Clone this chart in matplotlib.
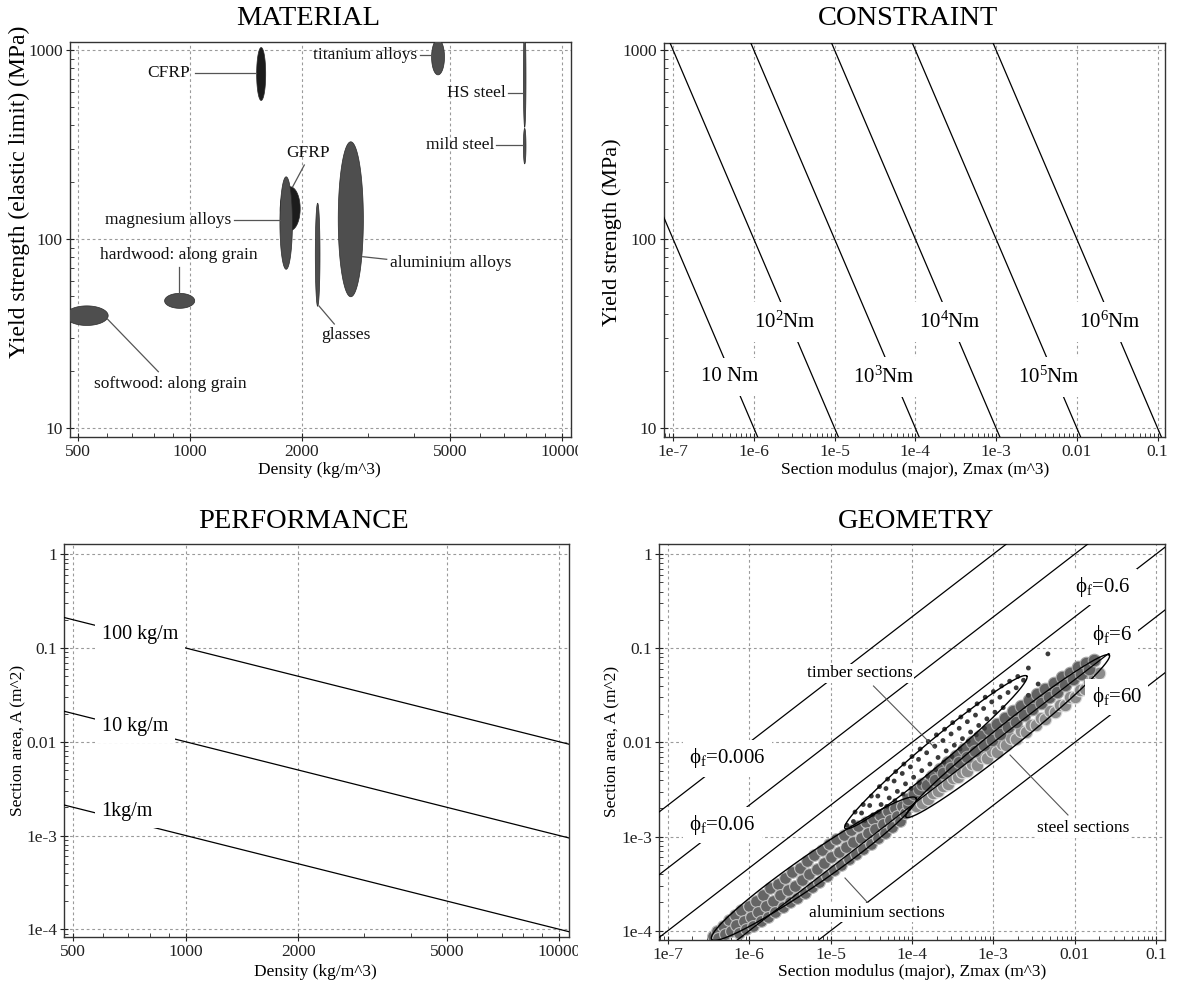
import numpy as np
import matplotlib
matplotlib.use('Agg')
import matplotlib.pyplot as plt
from matplotlib.patches import Rectangle
from matplotlib.ticker import FixedLocator, FixedFormatter, LogLocator, NullFormatter

plt.rcParams['font.family'] = ['Liberation Serif', 'DejaVu Serif']
plt.rcParams['mathtext.fontset'] = 'custom'
plt.rcParams['mathtext.rm'] = 'Liberation Serif'
plt.rcParams['mathtext.it'] = 'Liberation Serif:italic'
plt.rcParams['mathtext.bf'] = 'Liberation Serif:bold'

# ---------------- DATA ----------------
# MATERIAL panel: property ranges (density kg/m^3, yield strength MPa)
materials = ['softwood: along grain', 'hardwood: along grain', 'GFRP', 'CFRP',
             'magnesium alloys', 'glasses', 'aluminium alloys', 'titanium alloys',
             'HS steel', 'mild steel']
mat_rho_lo = [463, 855, 1748, 1511, 1745, 2172, 2503, 4460, 7870, 7870]
mat_rho_hi = [603, 1030, 1978, 1598, 1885, 2236, 2924, 4830, 7997, 7997]
mat_sy_lo = [34.9, 43.0, 111, 541, 69.2, 44.1, 49.5, 739, 390, 250]
mat_sy_hi = [44.3, 51.6, 189, 1031, 213.4, 154.7, 327, 1140, 1300, 385]
mat_dark = [False, False, True, True, False, False, False, False, False, False]

# CONSTRAINT panel: bending moment contours (Nm)
moments = [10, 100, 1e3, 1e4, 1e5, 1e6]
moment_labels = ['10 Nm', '10$^{2}$Nm', '10$^{3}$Nm', '10$^{4}$Nm', '10$^{5}$Nm', '10$^{6}$Nm']

# PERFORMANCE panel: mass per unit length contours (kg/m)
masses = [100, 10, 1]
mass_labels = ['100 kg/m', '10 kg/m', '1kg/m']

# GEOMETRY panel: shape factor contours
phis = [0.006, 0.06, 0.6, 6, 60]
phi_labels = ['ϕ$_{\\mathrm{f}}$=0.006', 'ϕ$_{\\mathrm{f}}$=0.06', 'ϕ$_{\\mathrm{f}}$=0.6',
              'ϕ$_{\\mathrm{f}}$=6', 'ϕ$_{\\mathrm{f}}$=60']

# section catalogues: log10(Zmax m^3), log10(A m^2)
alu_logZ = [-6.45, -6.40, -6.38, -6.32, -6.30, -6.25, -6.22, -6.18, -6.16, -6.13, -6.10, -6.07,
            -6.04, -6.00, -5.98, -5.95, -5.92, -5.89, -5.86, -5.83, -5.80, -5.77, -5.74, -5.71,
            -5.68, -5.65, -5.62, -5.59, -5.56, -5.53, -5.50, -5.47, -5.44, -5.41, -5.38, -5.35,
            -5.32, -5.29, -5.26, -5.23, -5.20, -5.17, -5.14, -5.11, -5.08, -5.05, -5.02, -4.99,
            -4.96, -4.93, -4.90, -4.87, -4.84, -4.81, -4.78, -4.75, -4.72, -4.69, -4.66, -4.63,
            -4.60, -4.57, -4.54, -4.51, -4.48, -4.45, -4.42, -4.39, -4.36, -4.33, -4.30, -4.27,
            -4.24, -4.21, -4.18, -4.15, -4.12, -4.09, -4.05]
alu_logA = [-4.06, -4.00, -4.08, -3.95, -4.04, -3.89, -4.00, -3.83, -3.94, -4.02, -3.78, -3.90,
            -3.98, -3.74, -3.85, -3.95, -3.68, -3.80, -3.90, -3.62, -3.74, -3.85, -3.55, -3.68,
            -3.80, -3.50, -3.62, -3.75, -3.44, -3.57, -3.70, -3.38, -3.52, -3.65, -3.33, -3.46,
            -3.60, -3.26, -3.40, -3.54, -3.20, -3.34, -3.48, -3.14, -3.28, -3.42, -3.08, -3.22,
            -3.36, -3.03, -3.16, -3.30, -2.98, -3.11, -3.24, -2.93, -3.06, -3.19, -2.89, -3.01,
            -3.13, -2.85, -2.96, -3.08, -2.81, -2.92, -3.02, -2.77, -2.87, -2.96, -2.73, -2.82,
            -2.90, -2.70, -2.78, -2.84, -2.68, -2.75, -2.66]

steel_dark_logZ = [-4.05, -3.98, -3.92, -3.88, -3.82, -3.76, -3.72, -3.66, -3.62, -3.56, -3.52,
                   -3.46, -3.42, -3.36, -3.32, -3.26, -3.22, -3.16, -3.12, -3.06, -3.02, -2.96,
                   -2.92, -2.86, -2.82, -2.76, -2.72, -2.66, -2.62, -2.56, -2.52, -2.46, -2.42,
                   -2.36, -2.32, -2.26, -2.22, -2.16, -2.12, -2.06, -2.02, -1.96, -1.92, -1.86,
                   -1.82, -1.76]
steel_dark_logA = [-2.60, -2.55, -2.50, -2.44, -2.45, -2.36, -2.40, -2.28, -2.33, -2.21, -2.27,
                   -2.14, -2.21, -2.07, -2.15, -2.00, -2.09, -1.93, -2.03, -1.86, -1.97, -1.80,
                   -1.91, -1.74, -1.84, -1.67, -1.78, -1.61, -1.71, -1.55, -1.65, -1.49, -1.58,
                   -1.43, -1.52, -1.37, -1.46, -1.31, -1.39, -1.26, -1.33, -1.20, -1.27, -1.16,
                   -1.22, -1.12]
steel_light_logZ = [-3.95, -3.88, -3.80, -3.74, -3.68, -3.62, -3.56, -3.50, -3.44, -3.38, -3.32,
                    -3.26, -3.20, -3.14, -3.08, -3.02, -2.96, -2.90, -2.84, -2.78, -2.72, -2.66,
                    -2.60, -2.54, -2.48, -2.42, -2.36, -2.30, -2.24, -2.18, -2.12, -2.06, -2.00,
                    -1.94, -1.88, -1.82, -1.76, -1.70]
steel_light_logA = [-2.68, -2.64, -2.60, -2.54, -2.52, -2.46, -2.44, -2.38, -2.37, -2.31, -2.30,
                    -2.23, -2.24, -2.16, -2.17, -2.09, -2.10, -2.02, -2.03, -1.95, -1.96, -1.88,
                    -1.89, -1.81, -1.82, -1.74, -1.75, -1.67, -1.68, -1.60, -1.60, -1.52, -1.52,
                    -1.44, -1.43, -1.36, -1.32, -1.26]

timber_logZ = [-4.80, -4.70, -4.72, -4.60, -4.62, -4.58, -4.50, -4.52, -4.48,
               -4.40, -4.42, -4.38, -4.41, -4.30, -4.32, -4.28, -4.31, -4.20, -4.22, -4.18, -4.21,
               -4.10, -4.12, -4.08, -4.11, -4.00, -4.02, -3.98, -4.01, -3.90, -3.92, -3.88, -3.91,
               -3.80, -3.82, -3.78, -3.81, -3.70, -3.72, -3.68, -3.71, -3.60, -3.62, -3.58, -3.61,
               -3.50, -3.52, -3.48, -3.51, -3.40, -3.42, -3.38, -3.41, -3.30, -3.32, -3.28, -3.31,
               -3.20, -3.22, -3.18, -3.21, -3.10, -3.12, -3.08, -3.11, -3.00, -3.02, -2.98,
               -2.90, -2.92, -2.88, -2.80, -2.82, -2.70, -2.72, -2.63, -2.57, -2.57, -2.45, -2.33]
timber_logA = [-2.88, -2.74, -2.84, -2.66, -2.75, -2.83, -2.57, -2.67, -2.77,
               -2.47, -2.57, -2.66, -2.74, -2.39, -2.49, -2.59, -2.68, -2.31, -2.41, -2.52, -2.62,
               -2.23, -2.33, -2.44, -2.55, -2.15, -2.26, -2.37, -2.49, -2.07, -2.18, -2.30, -2.43,
               -1.99, -2.11, -2.23, -2.36, -1.92, -2.04, -2.16, -2.29, -1.86, -1.98, -2.09, -2.21,
               -1.79, -1.91, -2.03, -2.15, -1.73, -1.85, -1.96, -2.07, -1.66, -1.78, -1.89, -1.99,
               -1.59, -1.71, -1.82, -1.92, -1.52, -1.64, -1.75, -1.85, -1.46, -1.57, -1.68,
               -1.40, -1.52, -1.63, -1.35, -1.47, -1.30, -1.42, -1.34, -1.21, -1.50, -1.38, -1.06]

# outline envelopes for each section family: (log Z, log A) of the two tips
env_names = ['timber', 'steel', 'aluminium']
env_tip1 = [(-4.824, -2.913), (-4.074, -2.793), (-6.462, -4.091)]
env_tip2 = [(-2.590, -1.296), (-1.575, -1.073), (-3.951, -2.591)]

# ---------------- FIGURE ----------------
W, H = 1177, 986
fig = plt.figure(figsize=(W / 100, H / 100), dpi=100)


def px_axes(l, t, r, b):
    return fig.add_axes([l / W, 1 - b / H, (r - l) / W, (b - t) / H])


GRID = dict(color='#9a9a9a', linestyle=(0, (2.5, 2.5)), linewidth=0.8)
TICKFS = 12.5


def style_axes(ax, xt, xtl, yt, ytl):
    ax.set_xscale('log')
    ax.set_yscale('log')
    ax.xaxis.set_major_locator(FixedLocator(xt))
    ax.xaxis.set_major_formatter(FixedFormatter(xtl))
    ax.yaxis.set_major_locator(FixedLocator(yt))
    ax.yaxis.set_major_formatter(FixedFormatter(ytl))
    ax.xaxis.set_minor_locator(LogLocator(base=10, subs=np.arange(2, 10), numticks=50))
    ax.yaxis.set_minor_locator(LogLocator(base=10, subs=np.arange(2, 10), numticks=50))
    ax.xaxis.set_minor_formatter(NullFormatter())
    ax.yaxis.set_minor_formatter(NullFormatter())
    ax.tick_params(which='major', direction='inout', length=6, width=0.8, labelsize=TICKFS, pad=2,
                   colors='#222222')
    ax.tick_params(which='minor', direction='in', length=3, width=0.6, colors='#222222')
    ax.grid(True, which='major', **GRID)
    ax.set_axisbelow(True)
    for s in ax.spines.values():
        s.set_color('#333333')
        s.set_linewidth(1.0)


def ftext(x, y, s, **kw):
    fig.text(x / W, 1 - y / H, s, **kw)


# ---------------- MATERIAL ----------------
ax1 = px_axes(69.6, 41.7, 571.1, 436.7)
style_axes(ax1, [500, 1000, 2000, 5000, 10000], ['500', '1000', '2000', '5000', '10000'],
           [10, 100, 1000], ['10', '100', '1000'])
ax1.set_xlim(475, 10572)
ax1.set_ylim(9.0, 1107)
th = np.linspace(0, 2 * np.pi, 300)
for i, name in enumerate(materials):
    lx0, lx1 = np.log10(mat_rho_lo[i]), np.log10(mat_rho_hi[i])
    ly0, ly1 = np.log10(mat_sy_lo[i]), np.log10(mat_sy_hi[i])
    cx, cy = (lx0 + lx1) / 2, (ly0 + ly1) / 2
    rx, ry = (lx1 - lx0) / 2, (ly1 - ly0) / 2
    col = '#1c1c1c' if mat_dark[i] else '#4e4e4e'
    ax1.fill(10 ** (cx + rx * np.cos(th)), 10 ** (cy + ry * np.sin(th)), color=col,
             ec='#2a2a2a', lw=0.5, zorder=3 + i * 0.01)

# labels and leaders (axes fraction)
mat_label_pos = {
    'softwood: along grain': ((0.2003, 0.1336), 'center', [(0.076, 0.2972), (0.1769, 0.1646)]),
    'hardwood: along grain': ((0.2168, 0.4600), 'center', [(0.2187, 0.4304), (0.2187, 0.3646)]),
    'CFRP': ((0.2401, 0.9215), 'right', [(0.2491, 0.9215), (0.3713, 0.9215)]),
    'GFRP': ((0.4760, 0.7175), 'center', [(0.4680, 0.6878), (0.4449, 0.6329)]),
    'magnesium alloys': ((0.3226, 0.5486), 'right', [(0.3278, 0.5486), (0.4201, 0.5486)]),
    'glasses': ((0.5512, 0.2575), 'center', [(0.4973, 0.3309), (0.5278, 0.2853)]),
    'aluminium alloys': ((0.6389, 0.4390), 'left', [(0.5845, 0.4557), (0.6323, 0.4491)]),
    'titanium alloys': ((0.6925, 0.9663), 'right', [(0.6987, 0.9663), (0.7220, 0.9663)]),
    'HS steel': ((0.8702, 0.8694), 'right', [(0.8742, 0.8694), (0.9031, 0.8694)]),
    'mild steel': ((0.8463, 0.7385), 'right', [(0.8503, 0.7385), (0.9031, 0.7385)]),
}
for name, (pos, ha, lead) in mat_label_pos.items():
    ax1.text(pos[0], pos[1], name, transform=ax1.transAxes, ha=ha, va='center', fontsize=12.5,
             color='#111111', zorder=6)
    (x0, y0), (x1, y1) = lead
    ax1.plot([x0, x1], [y0, y1], transform=ax1.transAxes, color='#555555', lw=0.9, zorder=5)

# ---------------- CONSTRAINT ----------------
ax2 = px_axes(663.8, 42.7, 1165.4, 436.7)
style_axes(ax2, [1e-7, 1e-6, 1e-5, 1e-4, 1e-3, 1e-2, 1e-1],
           ['1e-7', '1e-6', '1e-5', '1e-4', '1e-3', '0.01', '0.1'],
           [10, 100, 1000], ['10', '100', '1000'])
ax2.set_xlim(7.67e-8, 0.125)
ax2.set_ylim(9.0, 1094)
Zc = np.logspace(np.log10(7.67e-8), np.log10(0.125), 400)
for M in moments:
    ax2.plot(Zc, M / (Zc * 1e6), color='black', lw=0.9, zorder=3)
mlab_pos = [(-6.300, 1.2714), (-5.618, 1.5624), (-4.389, 1.2714), (-3.568, 1.5624),
            (-2.350, 1.2714), (-1.593, 1.5624)]
for (lx, ly), s in zip(mlab_pos, moment_labels):
    ax2.text(10 ** lx, 10 ** ly, s, ha='center', va='center', fontsize=15, zorder=5,
             bbox=dict(boxstyle='square,pad=0.45', fc='white', ec='none'))

# ---------------- PERFORMANCE ----------------
ax3 = px_axes(64, 544.3, 568.8, 936.7)
style_axes(ax3, [500, 1000, 2000, 5000, 10000], ['500', '1000', '2000', '5000', '10000'],
           [1e-4, 1e-3, 1e-2, 1e-1, 1], ['1e-4', '1e-3', '0.01', '0.1', '1'])
ax3.set_xlim(472, 10597)
ax3.set_ylim(0.834e-4, 1.278)
rho = np.logspace(np.log10(472), np.log10(10597), 200)
for m in masses:
    ax3.plot(rho, m / rho, color='black', lw=0.9, zorder=3)
perf_lab_y = [0.7691, 0.5354, 0.3194]
for fy, s in zip(perf_lab_y, mass_labels):
    ax3.text(0.0745, fy, s, transform=ax3.transAxes, ha='left', va='center', fontsize=14.5,
             zorder=5, bbox=dict(boxstyle='square,pad=0.35', fc='white', ec='none'))

# ---------------- GEOMETRY ----------------
ax4 = px_axes(659.3, 544.3, 1165.4, 940)
style_axes(ax4, [1e-7, 1e-6, 1e-5, 1e-4, 1e-3, 1e-2, 1e-1],
           ['1e-7', '1e-6', '1e-5', '1e-4', '1e-3', '0.01', '0.1'],
           [1e-4, 1e-3, 1e-2, 1e-1, 1], ['1e-4', '1e-3', '0.01', '0.1', '1'])
ax4.set_xlim(7.84e-8, 0.130)
ax4.set_ylim(0.797e-4, 1.27)

ax4.scatter(10 ** np.array(alu_logZ), 10 ** np.array(alu_logA), s=72, c='#656565',
            edgecolors='#bdbdbd', linewidths=0.8, zorder=2)
ax4.scatter(10 ** np.array(steel_light_logZ), 10 ** np.array(steel_light_logA), s=82,
            c='#8c8c8c', edgecolors='#dadada', linewidths=0.8, zorder=2)
ax4.scatter(10 ** np.array(steel_dark_logZ), 10 ** np.array(steel_dark_logA), s=82,
            c='#626262', edgecolors='#a8a8a8', linewidths=0.8, zorder=2.1)
ax4.scatter(10 ** np.array(timber_logZ), 10 ** np.array(timber_logA), s=12, c='#3a3a3a',
            edgecolors='none', zorder=2.2)

Zg = np.logspace(np.log10(7.84e-8), np.log10(0.130), 400)
for phi in phis:
    ax4.plot(Zg, (6 * Zg / phi) ** (2 / 3), color='black', lw=0.9, zorder=3)

# envelope outlines built in display space, then mapped back through the data transform
fig.canvas.draw()
tr = ax4.transData
semi_minor_px = [12, 12, 15]
tt = np.linspace(0, 2 * np.pi, 300)
for p1, p2, w in zip(env_tip1, env_tip2, semi_minor_px):
    d1 = tr.transform((10 ** p1[0], 10 ** p1[1]))
    d2 = tr.transform((10 ** p2[0], 10 ** p2[1]))
    c = (d1 + d2) / 2
    u = (d2 - d1) / 2
    n = np.array([-u[1], u[0]]) / np.hypot(u[0], u[1]) * w
    pts = c + np.outer(np.cos(tt), u) + np.outer(np.sin(tt), n)
    dat = tr.inverted().transform(pts)
    ax4.plot(dat[:, 0], dat[:, 1], color='black', lw=1.0, zorder=4)

phi_lab_pos = [(-6.738, -2.170), (-6.738, -2.878), (-2.0, -0.348), (-1.792, -0.861), (-1.792, -1.516)]
for (lx, ly), s in zip(phi_lab_pos, phi_labels):
    ax4.text(10 ** lx, 10 ** ly, s, ha='left', va='center', fontsize=15, zorder=6,
             bbox=dict(boxstyle='square,pad=0.3', fc='white', ec='none'))

geo_labels = [('timber sections', (0.3958, 0.674), [(0.4232, 0.6419), (0.5448, 0.4852)]),
              ('steel sections', (0.8379, 0.2823), [(0.693, 0.4675), (0.8075, 0.3159)]),
              ('aluminium sections', (0.429, 0.069), [(0.3669, 0.1567), (0.4124, 0.0935)])]
for s, (fx, fy), lead in geo_labels:
    ax4.text(fx, fy, s, transform=ax4.transAxes, ha='center', va='center', fontsize=12.5,
             zorder=6, bbox=dict(boxstyle='square,pad=0.1', fc='white', ec='none'))
    (x0, y0), (x1, y1) = lead
    ax4.plot([x0, x1], [y0, y1], transform=ax4.transAxes, color='#555555', lw=0.8, zorder=5)

# ---------------- TITLES & AXIS LABELS ----------------
TFS = 20.5
ftext(308.5, 18.3, 'MATERIAL', ha='center', va='center', fontsize=TFS)
ftext(908.2, 18.3, 'CONSTRAINT', ha='center', va='center', fontsize=TFS)
ftext(303.6, 521.7, 'PERFORMANCE', ha='center', va='center', fontsize=TFS)
ftext(915.7, 521.7, 'GEOMETRY', ha='center', va='center', fontsize=TFS)

LFS = 12.5
ftext(318.9, 470, 'Density (kg/m^3)', ha='center', va='center', fontsize=LFS)
ftext(914.8, 470, 'Section modulus (major), Zmax (m^3)', ha='center', va='center', fontsize=LFS)
ftext(315.7, 971.7, 'Density (kg/m^3)', ha='center', va='center', fontsize=LFS)
ftext(912.0, 971.7, 'Section modulus (major), Zmax (m^3)', ha='center', va='center', fontsize=LFS)

ftext(19.6, 191.7, 'Yield strength (elastic limit) (MPa)', ha='center', va='center',
      rotation=90, fontsize=17)
ftext(612.5, 232, 'Yield strength (MPa)', ha='center', va='center', rotation=90, fontsize=16)
ftext(18.8, 740.8, 'Section area, A (m^2)', ha='center', va='center', rotation=90, fontsize=LFS)
ftext(612.5, 741.7, 'Section area, A (m^2)', ha='center', va='center', rotation=90, fontsize=LFS)

# the source panels were cropped side by side: the '10000' tick labels are cut at the panel edge
for y0 in (440, 940):
    fig.patches.append(Rectangle((578 / W, 1 - (y0 + 25) / H), 20 / W, 25 / H,
                                 transform=fig.transFigure, fc='white', ec='none', zorder=10))

fig.savefig('out.png', dpi=100)
